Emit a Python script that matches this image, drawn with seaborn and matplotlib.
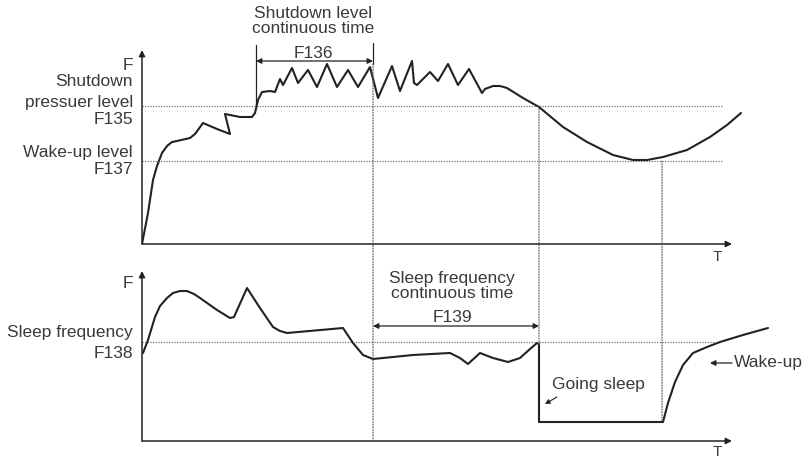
import numpy as np
import pandas as pd
import seaborn as sns
import matplotlib.pyplot as plt
from matplotlib.patches import ConnectionPatch

# upper panel: outlet pressure F over time T (schematic units)
top_t = [0, 6, 11, 15, 20, 25, 30, 35, 48, 53, 61, 75, 88, 83, 98, 110, 113, 116, 120, 128, 133,
         138, 141, 150, 156, 166, 175, 185, 195, 206, 216, 228, 236, 250, 258, 270, 272,
         275, 288, 296, 306, 316, 327, 340, 343, 351, 358, 365, 381, 397, 421, 445, 471,
         491, 505, 521, 545, 568, 585, 599]
top_f = [0, 31, 64, 78, 91, 98, 102, 103, 106, 110, 121, 115, 110, 130, 127, 127, 131, 144, 152, 153, 152,
         165, 159, 176, 161, 174, 157, 180, 157, 174, 157, 177, 146, 178, 153, 183, 161,
         159, 172, 163, 180, 159, 175, 151, 155, 158, 158, 156, 146, 137, 117, 102, 89,
         84, 84, 87, 94, 107, 119, 131]

# lower panel: output frequency F over time T
bot_t = [1, 6, 13, 18, 25, 31, 38, 45, 52, 58, 75, 88, 92, 105, 118, 131, 138, 145, 201, 211, 221, 231,
         271, 308, 318, 326, 338, 351, 366, 378, 388, 395, 397, 397, 521, 526, 533, 541,
         551, 565, 578, 601, 626]
bot_f = [88, 101, 124, 135, 143, 148, 150, 150, 147, 143, 131, 123, 124, 153, 133, 114, 110, 108, 113, 98, 86, 82,
         86, 88, 83, 77, 88, 83, 79, 83, 92, 98, 97, 19, 19, 38, 59, 76,
         88, 94, 99, 106, 113]

shutdown_level = 138   # F135
wakeup_level = 83      # F137
sleep_freq = 99        # F138
t_f136_start = 114
t_hold_end = 231       # end of F136 / start of F139
t_sleep = 397          # going sleep
t_wake = 520           # wake-up
t_axis_end = 590

sns.set_style('white')
plt.rcParams['font.family'] = ['Liberation Sans', 'DejaVu Sans']

ink = '#222222'
txt = '#3a3a3a'
dot = dict(color='#555555', lw=0.8, ls=(0, (1, 1.4)))
fs = 12.5

fig = plt.figure(figsize=(8.12, 4.58), dpi=100)
ax1 = fig.add_axes([142 / 812, 214 / 458, 670 / 812, 244 / 458])
ax2 = fig.add_axes([142 / 812, 17 / 458, 670 / 812, 183 / 458])
ax1.set_xlim(0, 670)
ax1.set_ylim(0, 244)
ax2.set_xlim(0, 670)
ax2.set_ylim(0, 183)

df_top = pd.DataFrame({'T': top_t, 'F': top_f})
df_bot = pd.DataFrame({'T': bot_t, 'F': bot_f})
sns.lineplot(data=df_top, x='T', y='F', sort=False, estimator=None, color=ink, lw=1.5, ax=ax1)
sns.lineplot(data=df_bot, x='T', y='F', sort=False, estimator=None, color=ink, lw=1.5, ax=ax2)

for ax in (ax1, ax2):
    ax.patch.set_visible(False)
    for s in ax.spines.values():
        s.set_visible(False)
    ax.set_xticks([])
    ax.set_yticks([])
    ax.set_xlabel('')
    ax.set_ylabel('')

# axes with arrow heads
arr = dict(arrowstyle='-|>', color=ink, lw=1.1, shrinkA=0, shrinkB=0, mutation_scale=9)
ax1.annotate('', xy=(t_axis_end, 0), xytext=(0, 0), arrowprops=arr)
ax1.annotate('', xy=(0, 194), xytext=(0, 0), arrowprops=arr)
ax2.annotate('', xy=(t_axis_end, 0), xytext=(0, 0), arrowprops=arr)
ax2.annotate('', xy=(0, 170), xytext=(0, 0), arrowprops=arr)

# level lines
ax1.plot([0, 581], [shutdown_level, shutdown_level], **dot)
ax1.plot([0, 581], [wakeup_level, wakeup_level], **dot)
ax2.plot([0, 575], [sleep_freq, sleep_freq], **dot)

# vertical time markers running through both panels
for t, f_top, f_bot in [(t_hold_end, 180, 0), (t_sleep, shutdown_level, 97), (t_wake, wakeup_level, 19)]:
    con = ConnectionPatch(xyA=(t, f_top), coordsA='data', axesA=ax1,
                          xyB=(t, f_bot), coordsB='data', axesB=ax2,
                          color='#555555', lw=0.8, ls=(0, (1, 1.4)))
    fig.add_artist(con)

# F136 bracket
ax1.plot([t_f136_start, t_f136_start], [136, 199], color=ink, lw=0.9)
ax1.plot([t_hold_end, t_hold_end], [180, 201], color=ink, lw=0.9)
dbl = dict(arrowstyle='<|-|>', color=ink, lw=0.9, shrinkA=0, shrinkB=0, mutation_scale=8)
ax1.annotate('', xy=(t_hold_end, 183), xytext=(t_f136_start, 183), arrowprops=dbl)
ax1.text(171, 191, 'F136', ha='center', va='center', fontsize=fs, color=txt)
ax1.text(171, 223, 'Shutdown level\ncontinuous time', ha='center', va='center',
         fontsize=fs, color=txt, linespacing=1.0)

# F139 bracket
ax2.annotate('', xy=(t_sleep, 115), xytext=(t_hold_end, 115), arrowprops=dbl)
ax2.text(310, 124, 'F139', ha='center', va='center', fontsize=fs, color=txt)
ax2.text(310, 155, 'Sleep frequency\ncontinuous time', ha='center', va='center',
         fontsize=fs, color=txt, linespacing=1.0)

# left labels
for f, s in [(179, 'F'), (162, 'Shutdown'), (142, 'pressuer level'), (124, 'F135'),
             (91, 'Wake-up level'), (74, 'F137')]:
    ax1.text(-9, f, s, ha='right', va='center', fontsize=fs, color=txt)
for f, s in [(158, 'F'), (109, 'Sleep frequency'), (88, 'F138')]:
    ax2.text(-9, f, s, ha='right', va='center', fontsize=fs, color=txt)

ax1.text(575, -13, 'T', ha='center', va='center', fontsize=fs - 1.5, color=txt)
ax2.text(575, -11, 'T', ha='center', va='center', fontsize=fs - 1.5, color=txt)

# annotations
ax2.text(410, 57, 'Going sleep', ha='left', va='center', fontsize=fs, color=txt)
ax2.annotate('', xy=(403, 37), xytext=(415, 44),
             arrowprops=dict(arrowstyle='-|>', color=ink, lw=0.8, shrinkA=0, shrinkB=0, mutation_scale=7))
ax2.text(592, 78, 'Wake-up', ha='left', va='center', fontsize=fs, color=txt)
ax2.annotate('', xy=(568, 78), xytext=(590, 78),
             arrowprops=dict(arrowstyle='-|>', color=ink, lw=0.9, shrinkA=0, shrinkB=0, mutation_scale=8))

fig.savefig('out.png', dpi=100)
